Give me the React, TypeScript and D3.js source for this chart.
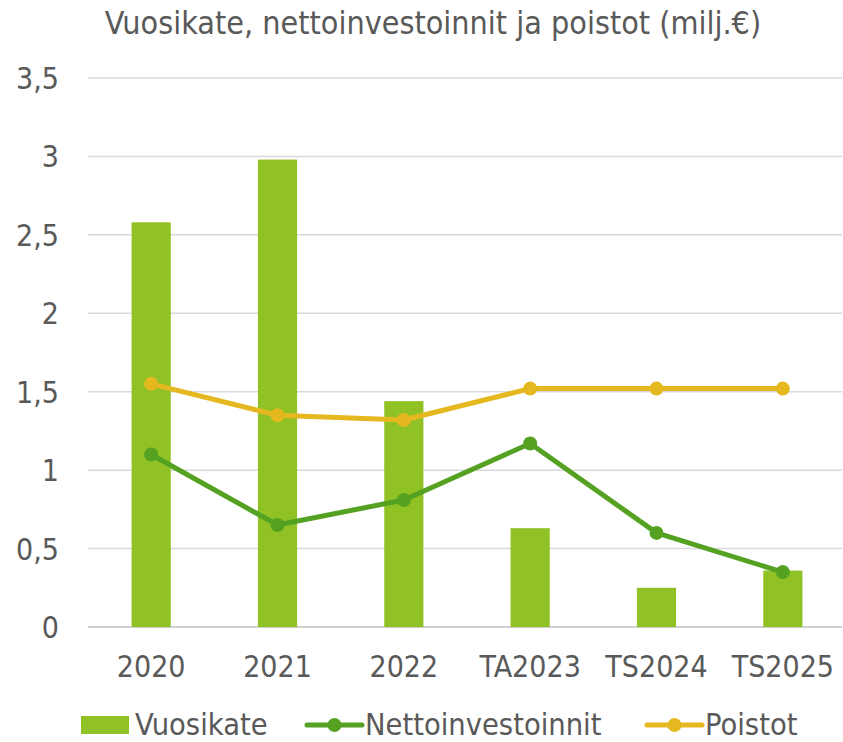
import React, { useEffect, useRef } from 'react';
import * as d3 from 'd3';

const categories = ['2020', '2021', '2022', 'TA2023', 'TS2024', 'TS2025'];
const vuosikate = [2.58, 2.98, 1.44, 0.63, 0.25, 0.36];
const nettoinvestoinnit = [1.1, 0.65, 0.81, 1.17, 0.6, 0.35];
const poistot = [1.55, 1.35, 1.32, 1.52, 1.52, 1.52];
const yTicks = [0, 0.5, 1, 1.5, 2, 2.5, 3, 3.5];

const BAR = '#90c226';
const NETTO = '#55a122';
const POISTOT = '#e6b820';
const TEXT = '#595959';
const FONT = '"DejaVu Sans Condensed", "DejaVu Sans", sans-serif';

const App: React.FC = () => {
	const svgRef = useRef<SVGSVGElement>(null);

	useEffect(() => {
		if (!svgRef.current) return;
		const width = 843;
		const height = 742;
		const svg = d3.select(svgRef.current)
			.attr('width', width)
			.attr('height', height)
			.style('font-family', FONT)
			.style('font-stretch', 'condensed');
		svg.selectAll('*').remove();

		const x = d3.scaleBand<string>().domain(categories).range([88, 846]).padding(0);
		const y = d3.scaleLinear().domain([0, 3.5]).range([627, 78]);
		const cx = (c: string) => (x(c) as number) + x.bandwidth() / 2;
		const barW = x.bandwidth() * 0.31;

		// title
		svg.append('text')
			.attr('x', 433).attr('y', 34)
			.attr('text-anchor', 'middle')
			.attr('fill', TEXT).attr('font-size', 32)
			.text('Vuosikate, nettoinvestoinnit ja poistot (milj.€)');

		// gridlines
		svg.append('g').selectAll('line').data(yTicks).join('line')
			.attr('x1', 88).attr('x2', 842)
			.attr('y1', d => y(d)).attr('y2', d => y(d))
			.attr('stroke', d => d === 0 ? '#d0d0d0' : '#d9d9d9')
			.attr('stroke-width', d => d === 0 ? 2 : 1.5);

		// y labels
		svg.append('g').selectAll('text').data(yTicks).join('text')
			.attr('x', 59).attr('y', d => y(d) + 11)
			.attr('text-anchor', 'end')
			.attr('fill', TEXT).attr('font-size', 30)
			.text(d => String(d).replace('.', ','));

		// x labels
		svg.append('g').selectAll('text').data(categories).join('text')
			.attr('x', d => cx(d)).attr('y', 677)
			.attr('text-anchor', 'middle')
			.attr('fill', TEXT).attr('font-size', 30)
			.text(d => d);

		// bars
		svg.append('g').selectAll('rect').data(vuosikate).join('rect')
			.attr('x', (d, i) => cx(categories[i]) - barW / 2)
			.attr('width', barW)
			.attr('y', d => y(d))
			.attr('height', d => y(0) - y(d))
			.attr('fill', BAR);

		const drawLine = (vals: number[], color: string) => {
			const line = d3.line<number>()
				.x((d, i) => cx(categories[i]))
				.y(d => y(d));
			svg.append('path').datum(vals)
				.attr('d', line)
				.attr('fill', 'none')
				.attr('stroke', color)
				.attr('stroke-width', 5)
				.attr('stroke-linejoin', 'round');
			svg.append('g').selectAll('circle').data(vals).join('circle')
				.attr('cx', (d, i) => cx(categories[i]))
				.attr('cy', d => y(d))
				.attr('r', 7)
				.attr('fill', color);
		};
		drawLine(poistot, POISTOT);
		drawLine(nettoinvestoinnit, NETTO);

		// legend
		const ly = 725;
		const lg = svg.append('g');
		lg.append('rect').attr('x', 81).attr('y', ly - 9).attr('width', 48).attr('height', 18).attr('fill', BAR);
		lg.append('text').attr('x', 135).attr('y', ly + 10).attr('fill', TEXT).attr('font-size', 30.5).text('Vuosikate');
		const legendLine = (x0: number, color: string, label: string) => {
			lg.append('line').attr('x1', x0).attr('x2', x0 + 55).attr('y1', ly).attr('y2', ly)
				.attr('stroke', color).attr('stroke-width', 5).attr('stroke-linecap', 'round');
			lg.append('circle').attr('cx', x0 + 27.5).attr('cy', ly).attr('r', 7).attr('fill', color);
			lg.append('text').attr('x', x0 + 58).attr('y', ly + 10).attr('fill', TEXT).attr('font-size', 30.5).text(label);
		};
		legendLine(307, NETTO, 'Nettoinvestoinnit');
		legendLine(647, POISTOT, 'Poistot');
	}, []);

	return <svg ref={svgRef} style={{ position: 'absolute', left: 0, top: 0 }}></svg>;
};

export default App;
